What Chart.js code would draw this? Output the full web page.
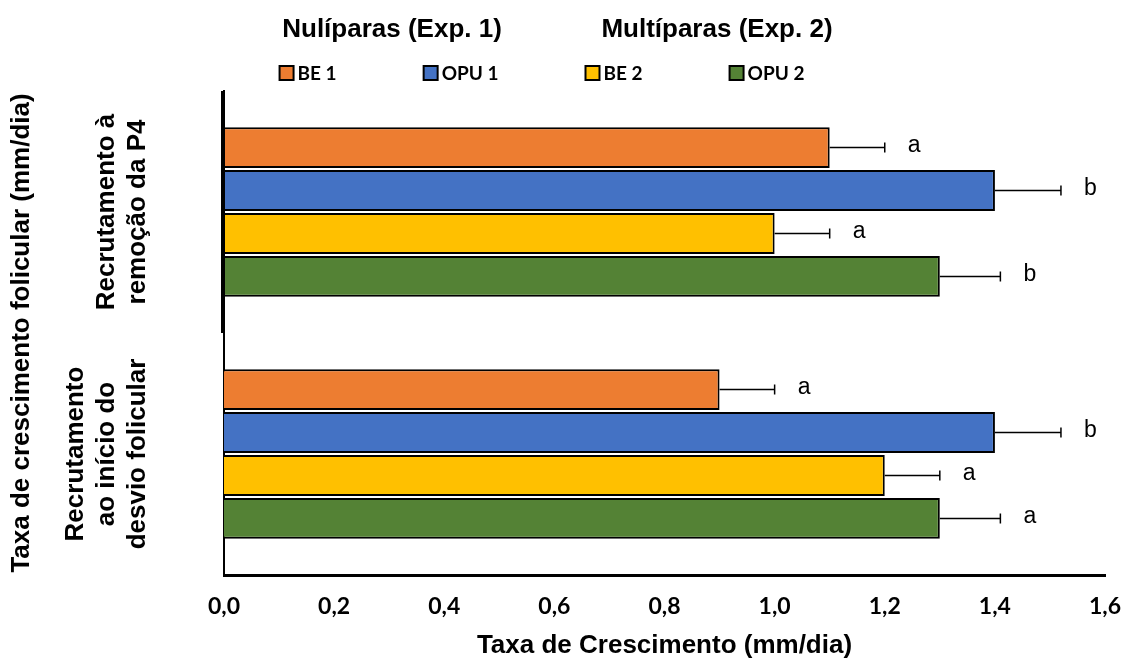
<!DOCTYPE html>
<html lang="pt">
  <head>
    <meta charset="UTF-8" />
    <script src="https://cdn.jsdelivr.net/npm/chart.js@4.4.0/dist/chart.umd.min.js"></script>
    <title>Taxa de crescimento folicular</title>
    <style>
      body {
        margin: 0;
        padding: 0;
        background: #fff;
      }
      .container {
        width: 1122px;
        height: 661px;
      }
    </style>
  </head>
  <body>
    <div class="container">
      <canvas id="growthChart"></canvas>
    </div>
    <script>
      // categories (multi-line labels, drawn rotated)
      const categories = [
        ['Recrutamento à', 'remoção da P4'],
        ['Recrutamento', 'ao início do', 'desvio folicular'],
      ]
      const groupHeaders = ['Nulíparas (Exp. 1)', 'Multíparas (Exp. 2)']
      const seriesNames = ['BE 1', 'OPU 1', 'BE 2', 'OPU 2']
      const seriesColors = ['#ED7D31', '#4472C4', '#FFC000', '#548235']

      const be1 = [1.1, 0.9]
      const opu1 = [1.4, 1.4]
      const be2 = [1.0, 1.2]
      const opu2 = [1.3, 1.3]

      const be1Err = [0.1, 0.1]
      const opu1Err = [0.12, 0.12]
      const be2Err = [0.1, 0.1]
      const opu2Err = [0.11, 0.11]

      const be1Letters = ['a', 'a']
      const opu1Letters = ['b', 'b']
      const be2Letters = ['a', 'a']
      const opu2Letters = ['b', 'a']

      const xTicks = [0, 0.2, 0.4, 0.6, 0.8, 1.0, 1.2, 1.4, 1.6]

      const values = [be1, opu1, be2, opu2]
      const errors = [be1Err, opu1Err, be2Err, opu2Err]
      const letters = [be1Letters, opu1Letters, be2Letters, opu2Letters]

      const titleFont = '"Liberation Sans", Arial, sans-serif'
      const smallFont = 'Lato, "Open Sans", sans-serif'

      const extras = {
        id: 'extras',
        afterDatasetsDraw(chart) {
          const ctx = chart.ctx
          const xs = chart.scales.x
          const ys = chart.scales.y
          const area = chart.chartArea

          // heavier stroke on the upper part of the value axis line
          const mid = (ys.getPixelForValue(0) + ys.getPixelForValue(1)) / 2
          ctx.save()
          ctx.strokeStyle = '#000'
          ctx.lineWidth = 4
          ctx.beginPath()
          ctx.moveTo(area.left - 1, area.top)
          ctx.lineTo(area.left - 1, mid)
          ctx.stroke()
          ctx.restore()

          chart.data.datasets.forEach((ds, di) => {
            const meta = chart.getDatasetMeta(di)
            meta.data.forEach((bar, i) => {
              const capX = xs.getPixelForValue(ds.data[i] + ds.errors[i])
              ctx.save()
              ctx.strokeStyle = '#000'
              ctx.lineWidth = 1.5
              ctx.beginPath()
              ctx.moveTo(bar.x, bar.y)
              ctx.lineTo(capX, bar.y)
              ctx.moveTo(capX, bar.y - 5)
              ctx.lineTo(capX, bar.y + 5)
              ctx.stroke()
              ctx.fillStyle = '#000'
              ctx.font = '23px ' + titleFont
              ctx.textAlign = 'left'
              ctx.textBaseline = 'middle'
              ctx.fillText(ds.letters[i], capX + 23, bar.y - 2)
              ctx.restore()
            })
          })
        },
        afterDraw(chart) {
          const ctx = chart.ctx
          const ys = chart.scales.y
          const left = chart.chartArea.left

          // rotated category labels
          ctx.save()
          ctx.fillStyle = '#000'
          ctx.font = 'bold 26px ' + titleFont
          ctx.textAlign = 'center'
          ctx.textBaseline = 'middle'
          categories.forEach((lines, i) => {
            const cy = ys.getPixelForValue(i)
            lines.forEach((line, j) => {
              const x = left - 86 - (lines.length - 1 - j) * 31
              ctx.save()
              ctx.translate(x, cy)
              ctx.rotate(-Math.PI / 2)
              ctx.fillText(line, 0, 0)
              ctx.restore()
            })
          })
          ctx.restore()

          // legend row
          ctx.save()
          ctx.font = 'bold 19px ' + smallFont
          const box = 14
          const gap = 87
          const widths = chart.data.datasets.map(
            (ds) => box + 4 + ctx.measureText(ds.label).width
          )
          const total = widths.reduce((a, b) => a + b, 0) + gap * (widths.length - 1)
          let x = chart.width / 2 - 19 - total / 2
          const ly = 73
          const starts = []
          chart.data.datasets.forEach((ds, i) => {
            starts.push(x)
            ctx.fillStyle = ds.backgroundColor
            ctx.fillRect(x, ly - box / 2, box, box)
            ctx.strokeStyle = '#000'
            ctx.lineWidth = 2
            ctx.strokeRect(x, ly - box / 2, box, box)
            ctx.fillStyle = '#000'
            ctx.textAlign = 'left'
            ctx.textBaseline = 'middle'
            ctx.fillText(ds.label, x + box + 4, ly + 1)
            x += widths[i] + gap
          })

          // group headers over each pair (second one sits a little to the right)
          ctx.font = 'bold 26px ' + titleFont
          ctx.textAlign = 'center'
          groupHeaders.forEach((h, g) => {
            const a = starts[g * 2]
            const b = starts[g * 2 + 1] + widths[g * 2 + 1]
            ctx.fillText(h, (a + b) / 2 + 3 + g * 19, 30)
          })
          ctx.restore()
        },
      }

      const ctx = document.getElementById('growthChart').getContext('2d')
      new Chart(ctx, {
        type: 'bar',
        data: {
          labels: categories,
          datasets: seriesNames.map((name, i) => ({
            label: name,
            data: values[i],
            errors: errors[i],
            letters: letters[i],
            backgroundColor: seriesColors[i],
            borderColor: '#000',
            borderWidth: 2,
            categoryPercentage: 0.71,
            barPercentage: 0.95,
          })),
        },
        options: {
          indexAxis: 'y',
          responsive: true,
          maintainAspectRatio: false,
          animation: false,
          layout: {
            padding: { top: 91, right: 0, left: 0, bottom: 0 },
          },
          plugins: {
            legend: { display: false },
            title: { display: false },
            tooltip: { enabled: false },
          },
          scales: {
            x: {
              min: 0,
              max: 1.6,
              afterBuildTicks: (scale) => {
                scale.ticks = xTicks.map((v) => ({ value: v }))
              },
              afterFit: (scale) => {
                scale.height = 86
                scale.paddingLeft = 0
                scale.paddingRight = 17
              },
              grid: { display: false, drawTicks: false },
              border: { display: true, color: '#000', width: 3 },
              ticks: {
                padding: 18,
                color: '#000',
                font: { family: smallFont, size: 23, weight: 'bold' },
                callback: (v) => Number(v).toFixed(1).replace('.', ','),
              },
              title: {
                display: true,
                text: 'Taxa de Crescimento (mm/dia)',
                color: '#000',
                font: { family: titleFont, size: 26, weight: 'bold' },
                padding: { top: 0, bottom: 0 },
              },
            },
            y: {
              afterFit: (scale) => {
                scale.width = 224
              },
              grid: { display: false, drawTicks: false },
              border: { display: true, color: '#000', width: 2 },
              ticks: { display: false },
              title: {
                display: true,
                text: 'Taxa de crescimento folicular (mm/dia)',
                color: '#000',
                font: { family: titleFont, size: 26, weight: 'bold' },
                padding: { top: 6, bottom: 0 },
              },
            },
          },
        },
        plugins: [extras],
      })
    </script>
  </body>
</html>
